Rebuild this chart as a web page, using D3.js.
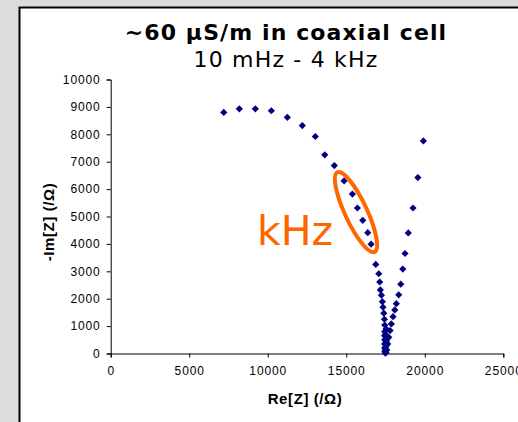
<!DOCTYPE html>
<html>
<head>
<meta charset="utf-8">
<script src="https://cdn.jsdelivr.net/npm/d3@7"></script>
<style>
  body { margin: 0; background: #dcdcdc; }
  svg { display: block; }
  .tick text { font-family: "Liberation Sans", Arial, sans-serif; font-size: 12px; letter-spacing: 0.9px; fill: #000; }
</style>
</head>
<body>
<svg id="chart"></svg>
<script>
// Nyquist data (low frequency on the right branch)
const reZ = [19910, 19560, 19250, 18950, 18740, 18600, 18470, 18340, 18190, 18090,
             17980, 17870, 17790, 17710, 17640, 17580, 17530, 17490, 17460, 17450,
             17440, 17450, 17440, 17450, 17450, 17430, 17390, 17340, 17300, 17240,
             17170, 17130, 17070, 16880, 16580, 16370, 16050, 15710, 15390, 14860,
             14240, 13630, 13030, 12200, 11250, 10230, 9210, 8190, 7200,
             17520, 17560, 17500, 17540, 17480];
const imZ = [7760, 6420, 5310, 4400, 3650, 3080, 2530, 2140, 1820, 1590,
             1345, 1080, 835, 590, 350, 130, 40, 10, 60, 200,
             350, 500, 650, 800, 1040, 1250, 1470, 1690, 1890, 2130,
             2320, 2610, 2910, 3250, 3990, 4410, 4860, 5310, 5820, 6300,
             6860, 7250, 7920, 8320, 8620, 8860, 8930, 8930, 8800,
             250, 460, 700, 900, 120];
const xTicks = [0, 5000, 10000, 15000, 20000, 25000];
const yTicks = [0, 1000, 2000, 3000, 4000, 5000, 6000, 7000, 8000, 9000, 10000];
const title = "~60 µS/m in coaxial cell";
const subtitle = "10 mHz - 4 kHz";
const xLabel = "Re[Z] (/Ω)";
const yLabel = "-Im[Z] (/Ω)";
// annotated region (kHz points)
const noteCenter = [15620, 5160];

const width = 518, height = 422;
const margin = { top: 79.5, right: 14.7, bottom: 68.5, left: 110.7 };

const svg = d3.select("#chart").attr("width", width).attr("height", height);

// white panel with border
svg.append("rect")
    .attr("x", 19.5).attr("y", 7.5)
    .attr("width", width).attr("height", height)
    .attr("fill", "#fff").attr("stroke", "#000").attr("stroke-width", 2);

const x = d3.scaleLinear().domain([0, 25000]).range([margin.left, width - margin.right]);
const y = d3.scaleLinear().domain([0, 10000]).range([height - margin.bottom, margin.top]);

svg.append("g")
    .attr("transform", `translate(0,${height - margin.bottom})`)
    .call(d3.axisBottom(x).tickValues(xTicks).tickFormat(d3.format("d")).tickSize(4).tickPadding(9))
    .call(g => g.select(".domain").attr("stroke", "#000"))
    .call(g => g.selectAll(".tick line").attr("stroke", "#000"));

svg.append("g")
    .attr("transform", `translate(${margin.left},0)`)
    .call(d3.axisLeft(y).tickValues(yTicks).tickFormat(d3.format("d")).tickSize(4).tickPadding(6))
    .call(g => g.select(".domain").attr("stroke", "#000"))
    .call(g => g.selectAll(".tick line").attr("stroke", "#000"));

// titles
svg.append("text")
    .attr("x", 286).attr("y", 40)
    .attr("text-anchor", "middle")
    .style("font-family", "DejaVu Sans, Verdana, sans-serif")
    .style("font-weight", "bold").style("font-size", "22px")
    .style("letter-spacing", "1.1px")
    .text(title);

svg.append("text")
    .attr("x", 286).attr("y", 67)
    .attr("text-anchor", "middle")
    .style("font-family", "DejaVu Sans, Verdana, sans-serif")
    .style("font-size", "22px")
    .style("letter-spacing", "1.2px")
    .text(subtitle);

svg.append("text")
    .attr("x", 305).attr("y", 404)
    .attr("text-anchor", "middle")
    .style("font-family", "Liberation Sans, Arial, sans-serif")
    .style("font-weight", "bold").style("font-size", "15px")
    .style("letter-spacing", "0.6px")
    .text(xLabel);

svg.append("text")
    .attr("transform", "translate(54,222) rotate(-90)")
    .attr("text-anchor", "middle")
    .style("font-family", "Liberation Sans, Arial, sans-serif")
    .style("font-weight", "bold").style("font-size", "15px")
    .style("letter-spacing", "0.6px")
    .text(yLabel);

// points
const pts = reZ.map((r, i) => ({ re: r, im: imZ[i] }));
svg.append("g")
    .selectAll("path")
    .data(pts)
    .join("path")
    .attr("d", d3.symbol(d3.symbolSquare, 26))
    .attr("transform", d => `translate(${x(d.re)},${y(d.im)}) rotate(45)`)
    .attr("fill", "#000080");

// orange ellipse + label
svg.append("ellipse")
    .attr("transform", `translate(${x(noteCenter[0])},${y(noteCenter[1])}) rotate(65)`)
    .attr("rx", 44).attr("ry", 11)
    .attr("fill", "none")
    .attr("stroke", "#ff6600")
    .attr("stroke-width", 4);

svg.append("text")
    .attr("x", 257).attr("y", 245)
    .style("font-family", "DejaVu Sans, Verdana, sans-serif")
    .style("font-size", "41px")
    .attr("fill", "#ff6600")
    .text("kHz");
</script>
</body>
</html>
